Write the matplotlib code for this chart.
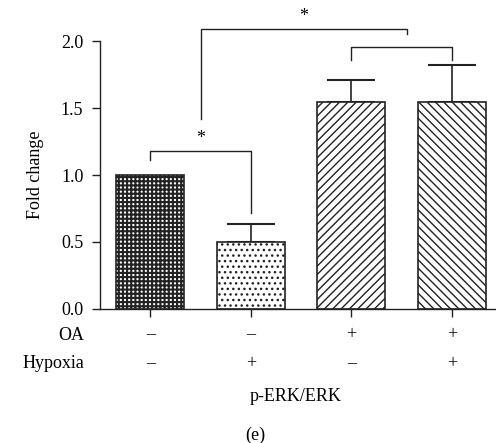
import numpy as np
import matplotlib
matplotlib.use('Agg')
import matplotlib.pyplot as plt

# data
groups = ['ctrl', 'hypoxia', 'OA', 'OA+hypoxia']
means = [1.0, 0.5, 1.545, 1.545]
errs = [0.0, 0.135, 0.165, 0.275]
oa_signs = ['–', '–', '+', '+']
hyp_signs = ['–', '+', '–', '+']
hatches = ['++++', '...', '////', '\\\\\\\\']
hatch_lw = [1.5, 1.0, 1.0, 1.0]

plt.rcParams['font.family'] = ['Liberation Serif', 'DejaVu Serif']
plt.rcParams['hatch.color'] = '#111111'
fs = 13

fig = plt.figure(figsize=(4.96, 4.43), dpi=100)
ax = fig.add_axes([0.2016, 0.3025, 0.7984, 0.6049])

x = np.arange(len(groups))
for i in x:
    with plt.rc_context({'hatch.linewidth': hatch_lw[i]}):
        ax.bar(x[i], means[i], width=0.68, color='white', edgecolor='#222222',
               linewidth=1.2, hatch=hatches[i], zorder=2)
    if errs[i] > 0:
        ax.errorbar(x[i], means[i], yerr=[[0], [errs[i]]], fmt='none',
                    ecolor='#222222', elinewidth=1.2, capsize=17, capthick=1.5, zorder=1)

ax.set_xlim(-0.5, 3.44)
ax.set_ylim(0, 2.0)
ax.set_yticks([0.0, 0.5, 1.0, 1.5, 2.0])
ax.set_yticklabels(['0.0', '0.5', '1.0', '1.5', '2.0'])
ax.set_xticks(x)
ax.set_xticklabels([])
ax.tick_params(axis='both', direction='out', length=6, width=1, labelsize=fs, color='#222222')
ax.tick_params(axis='y', pad=6)
ax.spines['top'].set_visible(False)
ax.spines['right'].set_visible(False)
for s in ['left', 'bottom']:
    ax.spines[s].set_linewidth(1)
    ax.spines[s].set_color('#222222')
ax.set_ylabel('Fold change', fontsize=fs, labelpad=12)

lc = '#222222'
def bracket(x0, x1, y, y0, y1, star=True):
    ax.plot([x0, x0, x1, x1], [y0, y, y, y1], color=lc, lw=1, clip_on=False)
    if star:
        ax.text((x0 + x1) / 2, y + 0.03, '*', ha='center', va='bottom', fontsize=fs, clip_on=False)

bracket(0, 1, 1.18, 1.11, 0.72)
bracket(2, 3, 1.955, 1.86, 1.86, star=False)
bracket(0.5, 2.55, 2.09, 1.42, 2.05)

# condition rows below the axis
for i in x:
    ax.text(x[i], -0.19, oa_signs[i], ha='center', va='center', fontsize=fs)
    ax.text(x[i], -0.41, hyp_signs[i], ha='center', va='center', fontsize=fs)
ax.text(-0.66, -0.2, 'OA', ha='right', va='center', fontsize=fs)
ax.text(-0.66, -0.41, 'Hypoxia', ha='right', va='center', fontsize=fs)
ax.text(1.45, -0.65, 'p-ERK/ERK', ha='center', va='center', fontsize=fs)
fig.text(0.514, 0.018, '(e)', ha='center', va='center', fontsize=fs)

fig.savefig('out.png', dpi=100)
